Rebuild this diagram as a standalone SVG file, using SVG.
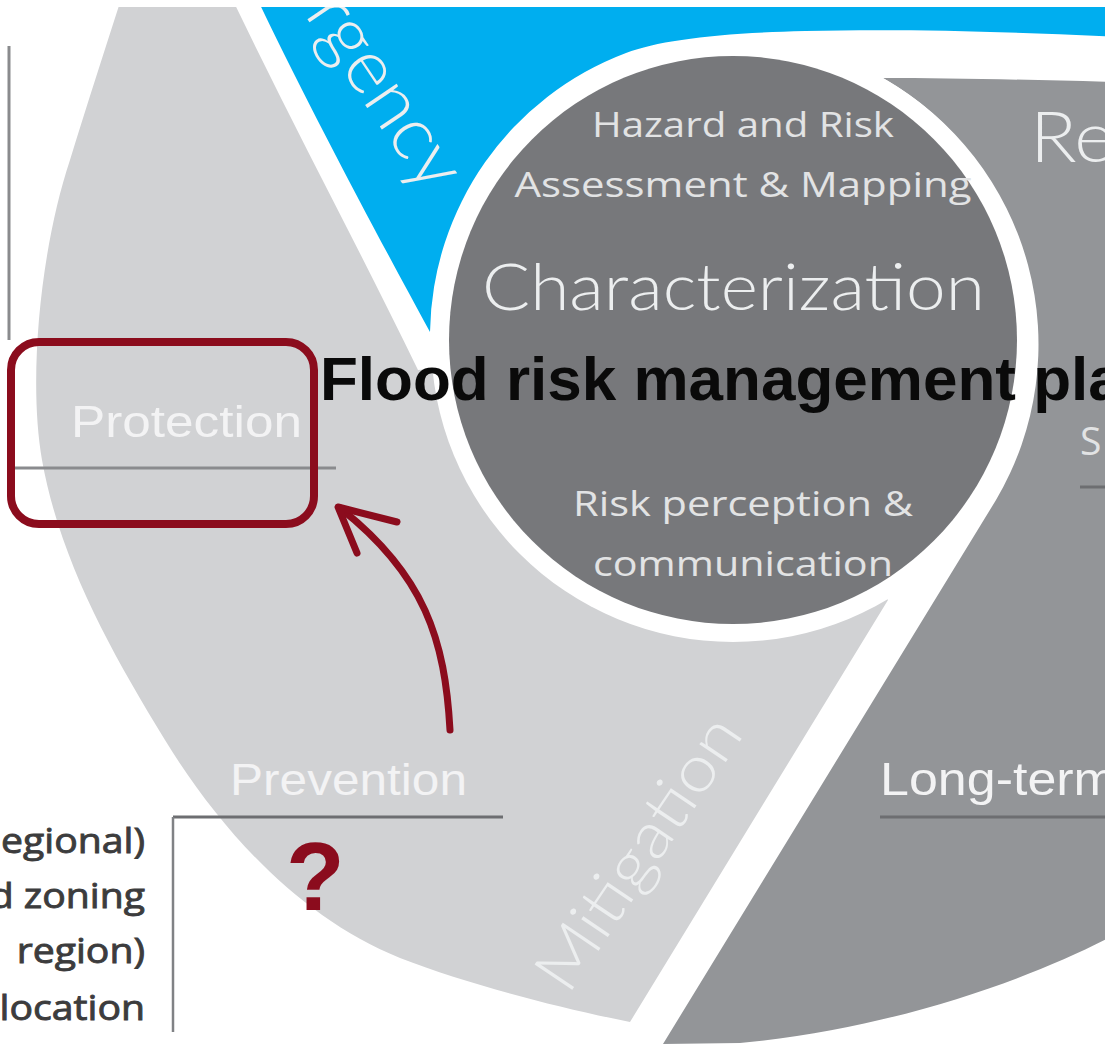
<svg xmlns="http://www.w3.org/2000/svg" width="1115" height="1051" viewBox="0 0 1115 1051">
<style>
  .lg{fill:#d1d2d4}
  .bl{fill:#00aeef}
  .gr{fill:#939598}
  .dk{fill:#77787b}
  .thin{font-family:"Lato","Liberation Sans",sans-serif;font-weight:300;fill:#eceeef}
  .hum{font-family:"Open Sans","Liberation Sans",sans-serif;fill:#e2e3e4}
  .lab{font-family:"Liberation Sans",Arial,sans-serif;fill:#f3f3f4}
  .list{font-family:"Open Sans","Liberation Sans",sans-serif;font-weight:400;fill:#3c3c3d;stroke:#3c3c3d;stroke-width:0.9;font-size:35px}
  .rule{stroke:#6d6e71;stroke-width:3;fill:none}
  .red{stroke:#8b0c1d;fill:none;stroke-linecap:round;stroke-linejoin:round}
</style>
<defs>
  <clipPath id="frame"><rect x="0" y="7" width="1105" height="1044"/></clipPath>
</defs>
<rect width="1115" height="1051" fill="#ffffff"/>
<g clip-path="url(#frame)">
  <g id="sector-mitigation">
    <path class="lg" d="M228,-10 C290,120 360,250 418,370 L733,340 L888,600 L630,1022 C560,1008 470,985 400,958 C300,918 220,830 165,740 C110,650 60,560 42,460 C28,380 40,250 70,160 C90,95 108,40 124,-10 Z"/>
    <text class="lab" x="71" y="437" font-size="45" textLength="231" lengthAdjust="spacingAndGlyphs">Protection</text>
    <text class="lab" x="230" y="795" font-size="45" textLength="237" lengthAdjust="spacingAndGlyphs">Prevention</text>
    <text class="thin" x="0" y="0" font-size="64" textLength="316" lengthAdjust="spacingAndGlyphs" transform="translate(568,996) rotate(-56)">Mitigation</text>
  </g>
  <g id="sector-emergency">
    <path class="bl" d="M253,-10 C310,110 380,240 430,332 A303,303 0 0 1 626,53 C660,40 720,33 805,31 C900,29 1000,31 1120,37 L1120,-10 Z"/>
    <text class="thin" x="0" y="0" font-size="76" transform="translate(304,14) rotate(56)">rgency</text>
  </g>
  <g id="sector-recovery">
    <path class="gr" d="M883,78 C950,78 1040,80 1120,82 L1120,932 C1040,975 900,1028 740,1043 L663,1044 L996,500 A306,306 0 0 0 883,78 Z"/>
    <text class="thin" x="0" y="0" font-size="70" transform="translate(1030,162) scale(1.1,1)">Re</text>
    <text class="hum" x="1080" y="455" font-size="39">S</text>
    <line class="rule" x1="1080" y1="487" x2="1110" y2="487"/>
    <text class="lab" x="0" y="0" font-size="46" transform="translate(880,795) scale(1.13,1)">Long-term</text>
    <line class="rule" x1="880" y1="817" x2="1110" y2="817" stroke="#5e5f62"/>
  </g>
  <g id="core-characterization">
    <circle cx="733" cy="340" r="302" fill="#ffffff"/>
    <circle class="dk" cx="733" cy="340" r="284"/>
    <text class="hum" x="743" y="137" font-size="35" text-anchor="middle" textLength="302" lengthAdjust="spacingAndGlyphs">Hazard and Risk</text>
    <text class="hum" x="743" y="197" font-size="35" text-anchor="middle" textLength="457" lengthAdjust="spacingAndGlyphs">Assessment &amp; Mapping</text>
    <text class="thin" x="733.5" y="310" font-size="66" text-anchor="middle" textLength="503" lengthAdjust="spacingAndGlyphs">Characterization</text>
    <text class="hum" x="743" y="516" font-size="35" text-anchor="middle" textLength="340" lengthAdjust="spacingAndGlyphs">Risk perception &amp;</text>
    <text class="hum" x="743" y="576" font-size="35" text-anchor="middle" textLength="300" lengthAdjust="spacingAndGlyphs">communication</text>
  </g>
  <g id="left-list">
    <line x1="9" y1="46" x2="9" y2="340" stroke="#8a8b8d" stroke-width="3"/>
    <line x1="14" y1="468" x2="336" y2="468" stroke="#8a8b8e" stroke-width="3"/>
    <line class="rule" x1="173" y1="817" x2="503" y2="817"/>
    <line x1="173" y1="817" x2="173" y2="1032" stroke="#808285" stroke-width="2.5"/>
    <text class="list" x="0" y="0" text-anchor="end" transform="translate(145,853) scale(1.12,1)">egional)</text>
    <text class="list" x="0" y="0" text-anchor="end" transform="translate(145,908) scale(1.12,1)">d zoning</text>
    <text class="list" x="0" y="0" text-anchor="end" transform="translate(145,963) scale(1.12,1)">region)</text>
    <text class="list" x="0" y="0" text-anchor="end" transform="translate(145,1020) scale(1.12,1)">location</text>
  </g>
  <g id="title">
    <text x="320" y="400" font-family="'Liberation Sans',Arial,sans-serif" font-weight="bold" font-size="62" fill="#0a0a0a">Flood risk management pla</text>
  </g>
  <g id="annotation-box">
    <rect class="red" x="11" y="342" width="303" height="182" rx="28" stroke-width="8"/>
  </g>
  <g id="annotation-question">
    <text x="286" y="910" font-family="'Liberation Sans',Arial,sans-serif" font-weight="bold" font-size="96" fill="#8b0c1d">?</text>
  </g>
  <g id="connectors">
    <path class="red" stroke-width="7" d="M450,730 C445,640 425,575 340,508"/>
    <polyline class="red" stroke-width="7" points="397,522 338,507 357,553"/>
  </g>
</g>
</svg>
